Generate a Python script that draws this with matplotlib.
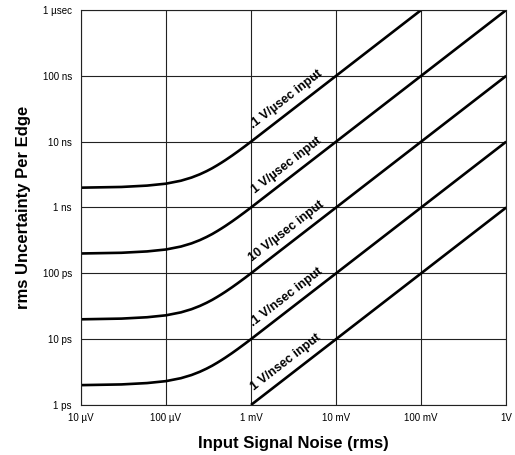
"""rms timing uncertainty per edge versus input signal noise"""

import numpy as np
import matplotlib.pyplot as plt

# input noise (V rms) at which the curves were read
noise = [1e-5, 3e-5, 6e-5, 1e-4, 1.5e-4, 2e-4, 2.5e-4, 3e-4, 3.5e-4, 4e-4, 4.5e-4,
         5e-4, 6e-4, 7e-4, 8.5e-4, 1e-3, 1e-2, 1e-1, 1.0]

# uncertainty per edge (ns) for each slew rate
u_01_vus = [2.0, 2.05, 2.15, 2.3, 2.55, 2.85, 3.19, 3.56, 3.95, 4.37, 4.8,
            5.24, 6.15, 7.09, 8.53, 10.0, 100.0, 1000.0, 10000.0]
u_1_vus = [0.2, 0.205, 0.215, 0.23, 0.255, 0.285, 0.319, 0.356, 0.395, 0.437, 0.48,
           0.524, 0.615, 0.709, 0.853, 1.0, 10.0, 100.0, 1000.0]
u_10_vus = [0.02, 0.0205, 0.0215, 0.023, 0.0255, 0.0285, 0.0319, 0.0356, 0.0395, 0.0437, 0.048,
            0.0524, 0.0615, 0.0709, 0.0853, 0.1, 1.0, 10.0, 100.0]
u_01_vns = [0.002, 0.00205, 0.00215, 0.0023, 0.00255, 0.00285, 0.00319, 0.00356, 0.00395, 0.00437, 0.0048,
            0.00524, 0.00615, 0.00709, 0.00853, 0.01, 0.1, 1.0, 10.0]
noise_fast = [1e-3, 1e-2, 1e-1, 1.0]
u_1_vns = [0.001, 0.01, 0.1, 1.0]

curves = [(noise, u_01_vus, ".1 V/\u00b5sec input"),
          (noise, u_1_vus, "1 V/\u00b5sec input"),
          (noise, u_10_vus, "10 V/\u00b5sec input"),
          (noise, u_01_vns, ".1 V/nsec input"),
          (noise_fast, u_1_vns, "1 V/nsec input")]

xticks = [1e-5, 1e-4, 1e-3, 1e-2, 1e-1, 1.0]
xticklabels = ["10 \u00b5V", "100 \u00b5V", "1 mV", "10 mV", "100 mV", "1V"]
yticks = [1e-3, 1e-2, 1e-1, 1.0, 10.0, 100.0, 1000.0]
yticklabels = ["1 ps", "10 ps", "100 ps", "1 ns", "10 ns", "100 ns", "1 \u00b5sec"]

plt.rcParams["font.family"] = ["Liberation Sans", "DejaVu Sans"]

fig = plt.figure(figsize=(5.15, 4.55), dpi=100)
ax = fig.add_axes([0.157, 0.110, 0.826, 0.868])
ax.set_xscale("log")
ax.set_yscale("log")
ax.set_xlim(1e-5, 1.0)
ax.set_ylim(1e-3, 1e3)

ax.set_xticks(xticks)
ax.set_xticklabels(xticklabels)
ax.set_yticks(yticks)
ax.set_yticklabels(yticklabels)
ax.minorticks_off()
ax.tick_params(length=0, labelsize=7)
ax.tick_params(axis="x", pad=6)
ax.tick_params(axis="y", pad=6.5)
ax.grid(True, color="#222222", linewidth=0.8)
for s in ax.spines.values():
    s.set_linewidth(0.8)
    s.set_color("#222222")

for xs, ys, lab in curves:
    ax.plot(xs, ys, color="black", linewidth=1.9, solid_capstyle="butt")

# angle of the 1:1 slope lines on screen
fig.canvas.draw()
p0 = ax.transData.transform((1e-3, 1.0))
p1 = ax.transData.transform((1e-2, 10.0))
ang = np.degrees(np.arctan2(p1[1] - p0[1], p1[0] - p0[0]))
nx, ny = -np.sin(np.radians(ang)), np.cos(np.radians(ang))

for xs, ys, lab in curves:
    xm = 10 ** -2.5
    ym = np.interp(np.log10(xm), np.log10(xs), np.log10(ys))
    ax.annotate(lab, (xm, 10 ** ym), xytext=(8.5 * nx, 8.5 * ny), textcoords="offset points",
                rotation=ang, ha="center", va="center", rotation_mode="anchor",
                fontsize=9, fontweight="bold")

ax.set_xlabel("Input Signal Noise (rms)", fontsize=12, fontweight="bold", labelpad=9)
ax.set_ylabel("rms Uncertainty Per Edge", fontsize=12, fontweight="bold", labelpad=8)

fig.savefig("out.png", dpi=100)
